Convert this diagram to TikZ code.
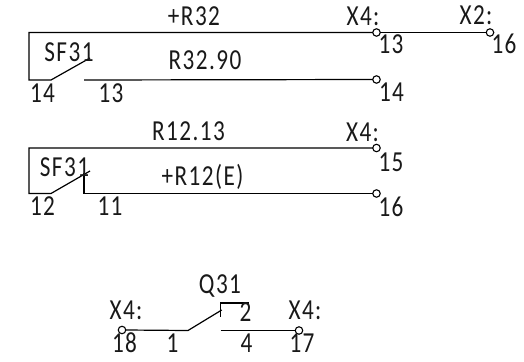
\documentclass[tikz,border=0pt]{standalone}
\usepackage{fontspec}
\setmainfont[FakeStretch=0.8,LetterSpace=5]{Carlito}
\tikzset{
  wire/.style={line width=1.2pt,black},
  lab/.style={anchor=base,inner sep=0pt,outer sep=0pt,font=\fontsize{29}{29}\selectfont,text=black!90},
  term/.style={circle,draw=black,line width=1.1pt,fill=white,minimum size=7.5pt,inner sep=0pt,outer sep=0pt}
}
\begin{document}
\begin{tikzpicture}[x=1pt,y=-1pt]
\useasboundingbox (0,0) rectangle (524,361);
% block 1
\coordinate (a1) at (29,32.5);
\coordinate (a2) at (29,80);
\coordinate (a3) at (51,80);
\coordinate (a4) at (90,58);
\coordinate (a5) at (84,80);
\node[term] (t13) at (376.5,32.5) {};
\node[term] (t216) at (490,32.5) {};
\node[term] (t14) at (376.5,79.5) {};
\draw[wire] (t13.west) -- (a1) -- (a2) -- (a3) -- (a4);
\draw[wire] (a5) -- (t14.west);
\draw[wire] (t13.east) -- (t216.west);
\node[lab] (l1) at (194,26) {+R32};
\node[lab] (l2) at (205,69) {R32.90};
\node[lab] (l3) at (69,61) {SF31};
\node[lab] (l4) at (42.5,102) {14};
\node[lab] (l5) at (111,102) {13};
\node[lab] (l6) at (363,26) {X4:};
\node[lab] (l7) at (391,54) {13};
\node[lab] (l8) at (476,25) {X2:};
\node[lab] (l9) at (504,54) {16};
\node[lab] (l10) at (391.5,101) {14};
% block 2
\coordinate (b1) at (29,148);
\coordinate (b2) at (29,193.5);
\coordinate (b3) at (51,193.5);
\coordinate (b4) at (90,171);
\coordinate (b5) at (84,173);
\coordinate (b6) at (84,193.5);
\node[term] (t15) at (376.5,148) {};
\node[term] (t16) at (376.5,193.5) {};
\draw[wire] (t15.west) -- (b1) -- (b2) -- (b3) -- (b4);
\draw[wire] (b5) -- (b6) -- (t16.west);
\node[lab] (m1) at (188.5,140) {R12.13};
\node[lab] (m2) at (202.5,185) {+R12(E)};
\node[lab] (m3) at (64.5,176) {SF31};
\node[lab] (m4) at (42.5,215) {12};
\node[lab] (m5) at (110,215) {11};
\node[lab] (m6) at (362.5,141) {X4:};
\node[lab] (m7) at (391,171) {15};
\node[lab] (m8) at (391,216) {16};
% block 3
\node[term] (t18) at (122,330) {};
\node[term] (t17) at (299,330.5) {};
\coordinate (c1) at (188,330.5);
\coordinate (c2) at (221.7,310);
\coordinate (c3) at (220.7,316.7);
\coordinate (c4) at (220.7,303);
\coordinate (c5) at (249,303);
\coordinate (c6) at (220.5,330.5);
\draw[wire] (t18.east) -- (c1) -- (c2);
\draw[wire] (c3) -- (c4) -- (c5);
\draw[wire] (c6) -- (t17.west);
\node[lab] (n1) at (220,293) {Q31};
\node[lab] (n2) at (126,319) {X4:};
\node[lab] (n3) at (305,319) {X4:};
\node[lab] (n4) at (124.5,352.7) {18};
\node[lab] (n5) at (172.5,352.7) {1};
\node[lab] (n6) at (245.5,321.7) {2};
\node[lab] (n7) at (246.5,352.7) {4};
\node[lab] (n8) at (302,352.7) {17};
\end{tikzpicture}
\end{document}
